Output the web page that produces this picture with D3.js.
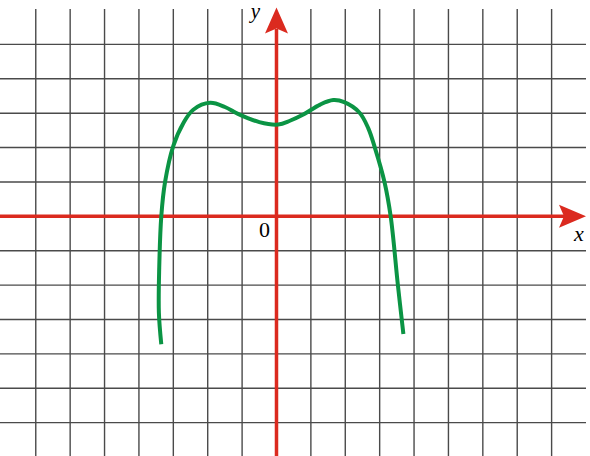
<!DOCTYPE html>
<html>
<head>
<meta charset="utf-8">
<script src="https://cdn.jsdelivr.net/npm/d3@7"></script>
<style>
  html, body { margin: 0; padding: 0; background: #fff; }
  svg { display: block; }
</style>
</head>
<body>
<div class="chart"></div>
<script>
// grid positions in graph units
var gridX = [-7, -6, -5, -4, -3, -2, -1, 1, 2, 3, 4, 5, 6, 7, 8];
var gridY = [-6, -5, -4, -3, -2, -1, 1, 2, 3, 4, 5];

// curve (units = grid cells)
var curveX = [-3.35, -3.42, -3.41, -3.35, -3.24, -3.0, -2.71, -2.42, -1.93, -1.5, -1.12, -0.5, 0.05, 0.39, 0.78, 1.27, 1.65, 1.97, 2.41, 2.67, 2.86, 3.14, 3.32, 3.53, 3.69];
var curveY = [-3.72, -2.8, -1.5, 0, 1.0, 2.05, 2.71, 3.1, 3.3, 3.18, 2.98, 2.74, 2.67, 2.78, 2.96, 3.25, 3.38, 3.32, 3.02, 2.56, 2.0, 1.0, 0, -2.0, -3.42];

var axisLabels = { x: "x", y: "y", origin: "0" };

var width = 590, height = 456;

var svg = d3.select(".chart").append("svg")
    .attr("width", width)
    .attr("height", height);

var x = d3.scaleLinear().domain([-8.04, 9]).range([0, 586]);
var y = d3.scaleLinear().domain([-6.97, 6.03]).range([456, 9]);

// grid
svg.selectAll(".vgrid")
    .data(gridX)
    .enter().append("line")
    .attr("class", "vgrid")
    .attr("x1", function(d) { return x(d); })
    .attr("x2", function(d) { return x(d); })
    .attr("y1", y(6.03))
    .attr("y2", height)
    .style("stroke", "#4a4a4a")
    .style("stroke-width", 1.4);

svg.selectAll(".hgrid")
    .data(gridY)
    .enter().append("line")
    .attr("class", "hgrid")
    .attr("x1", 0)
    .attr("x2", x(9))
    .attr("y1", function(d) { return y(d); })
    .attr("y2", function(d) { return y(d); })
    .style("stroke", "#4a4a4a")
    .style("stroke-width", 1.4);

// axes
var red = "#db2a1f";

svg.append("line")
    .attr("x1", 0).attr("x2", x(9) - 20)
    .attr("y1", y(0)).attr("y2", y(0))
    .style("stroke", red).style("stroke-width", 3.5);

svg.append("line")
    .attr("x1", x(0)).attr("x2", x(0))
    .attr("y1", height).attr("y2", y(6.03) + 20)
    .style("stroke", red).style("stroke-width", 3.5);

// arrow heads
var tipX = [x(9), y(0)];
svg.append("path")
    .attr("d", "M" + tipX[0] + "," + tipX[1] +
               "L" + (tipX[0] - 27) + "," + (tipX[1] - 11.5) +
               "L" + (tipX[0] - 22) + "," + tipX[1] +
               "L" + (tipX[0] - 27) + "," + (tipX[1] + 11.5) + "Z")
    .style("fill", red);

var tipY = [x(0), y(6.03) - 1.5];
svg.append("path")
    .attr("d", "M" + tipY[0] + "," + tipY[1] +
               "L" + (tipY[0] - 11.5) + "," + (tipY[1] + 26) +
               "L" + tipY[0] + "," + (tipY[1] + 21) +
               "L" + (tipY[0] + 11.5) + "," + (tipY[1] + 26) + "Z")
    .style("fill", red);

// curve
var pts = curveX.map(function(d, i) { return [d, curveY[i]]; });

var line = d3.line()
    .x(function(d) { return x(d[0]); })
    .y(function(d) { return y(d[1]); })
    .curve(d3.curveCatmullRom.alpha(0.5));

svg.append("path")
    .datum(pts)
    .attr("d", line)
    .style("fill", "none")
    .style("stroke", "#0b9444")
    .style("stroke-width", 4)
    .style("stroke-linecap", "butt");

// labels
var font = "'Liberation Serif', 'Times New Roman', serif";

svg.append("text")
    .attr("x", x(0) - 12).attr("y", y(0) + 21)
    .attr("text-anchor", "middle")
    .style("font-family", font)
    .style("font-size", "22px")
    .text(axisLabels.origin);

svg.append("text")
    .attr("x", x(9) - 7).attr("y", y(0) + 25)
    .attr("text-anchor", "middle")
    .style("font-family", font)
    .style("font-style", "italic")
    .style("font-size", "22px")
    .text(axisLabels.x);

svg.append("text")
    .attr("x", x(0) - 21).attr("y", 18)
    .attr("text-anchor", "middle")
    .style("font-family", font)
    .style("font-style", "italic")
    .style("font-size", "21px")
    .text(axisLabels.y);
</script>
</body>
</html>
